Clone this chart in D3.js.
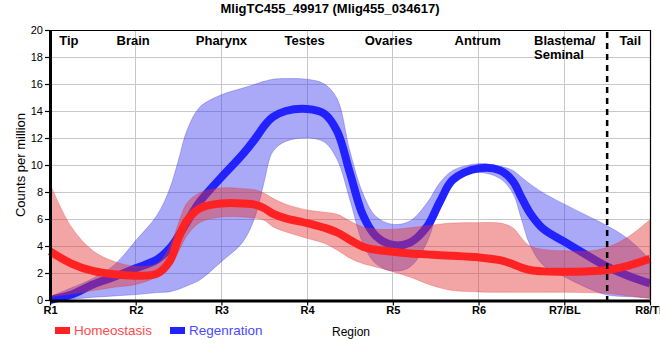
<!DOCTYPE html>
<html>
<head>
<meta charset="utf-8">
<script src="https://cdn.jsdelivr.net/npm/d3@7"></script>
<style>
  html, body { margin: 0; padding: 0; background: #fff; }
  svg { display: block; font-family: Arial, "Liberation Sans", sans-serif; }
</style>
</head>
<body>
<svg id="chart" width="660" height="360"></svg>
<script>
// ---------- data ----------
const title = "MligTC455_49917 (Mlig455_034617)";
const xTickLabels = ["R1", "R2", "R3", "R4", "R5", "R6", "R7/BL", "R8/TL"];
const yTicks = [0, 2, 4, 6, 8, 10, 12, 14, 16, 18, 20];
const regionNames = ["Tip", "Brain", "Pharynx", "Testes", "Ovaries", "Antrum", "Blastema/", "Seminal", "Tail"];
const regionPos = [0.22, 0.97, 2.0, 2.97, 3.95, 4.99, 5.8, 5.8, 6.77];
const tailBoundary = 6.5;

// positions along the body (0 = R1 ... 7 = R8/TL)
const pos = [0, 0.25, 0.5, 0.75, 1, 1.25, 1.4, 1.5, 1.6, 1.75, 2, 2.25, 2.4, 2.5, 2.6, 2.75, 3, 3.2, 3.35, 3.5, 3.65, 3.8, 4, 4.2, 4.4, 4.55, 4.7, 5, 5.25, 5.4, 5.5, 5.6, 5.75, 6, 6.25, 6.5, 6.75, 7];

const homeoMean = [3.6, 2.7, 2.15, 1.9, 1.8, 1.95, 2.9, 4.6, 5.9, 6.8, 7.15, 7.15, 7.05, 6.8, 6.4, 6.05, 5.7, 5.35, 5.0, 4.45, 3.95, 3.72, 3.58, 3.45, 3.38, 3.32, 3.28, 3.16, 2.95, 2.65, 2.4, 2.22, 2.12, 2.1, 2.12, 2.22, 2.55, 3.05];
const homeoHigh = [8.6, 5.4, 3.65, 2.85, 2.5, 2.7, 4.0, 5.7, 7.2, 7.95, 8.3, 8.25, 8.15, 7.9, 7.53, 7.1, 6.67, 6.5, 6.35, 5.85, 5.4, 5.25, 5.23, 5.35, 5.5, 5.62, 5.7, 5.73, 5.7, 5.35, 4.6, 4.0, 3.75, 3.65, 3.6, 3.9, 4.7, 5.95];
const homeoLow  = [0.25, 0.45, 0.7, 0.95, 1.15, 1.75, 2.6, 3.6, 4.8, 5.75, 6.15, 6.15, 6.05, 5.9, 5.43, 5.05, 4.57, 4.2, 3.7, 3.1, 2.7, 2.45, 2.1, 1.7, 1.2, 0.9, 0.7, 0.6, 0.57, 0.57, 0.57, 0.57, 0.57, 0.57, 0.55, 0.5, 0.3, 0.1];

const regenMean = [0.0, 0.4, 1.15, 1.72, 2.35, 3.0, 3.85, 4.75, 5.8, 7.3, 9.1, 10.8, 12.0, 12.9, 13.55, 14.0, 14.15, 13.8, 12.5, 9.4, 6.3, 4.75, 4.07, 4.25, 5.45, 7.3, 8.9, 9.75, 9.6, 8.8, 7.6, 6.45, 5.3, 4.32, 3.37, 2.47, 1.78, 1.23];
const regenHigh = [0.25, 0.9, 1.6, 2.6, 4.4, 6.3, 8.3, 10.4, 12.6, 14.3, 15.2, 15.7, 16.0, 16.2, 16.35, 16.4, 16.35, 16.0, 14.9, 11.0, 7.9, 6.2, 5.6, 5.85, 7.2, 8.7, 9.6, 10.1, 9.9, 9.6, 9.1, 8.6, 7.95, 7.1, 6.3, 5.5, 4.5, 3.0];
const regenLow  = [-0.1, 0.05, 0.2, 0.3, 0.4, 0.55, 0.62, 0.8, 1.05, 1.5, 2.84, 4.3, 6.3, 8.8, 11.0, 11.75, 12.0, 11.7, 10.4, 7.4, 4.2, 2.7, 2.15, 2.45, 4.3, 7.2, 9.0, 9.45, 9.0, 7.9, 6.0, 4.07, 2.6, 1.73, 0.95, 0.37, 0.25, 0.17];

const legendLabels = ["Homeostasis", "Regenration"];
const xAxisTitle = "Region";
const yAxisTitle = "Counts per million";

// ---------- layout ----------
const svg = d3.select("#chart");
const pLeft = 50, pRight = 650, pTop = 30, pBottom = 300;
const x = d3.scaleLinear().domain([0, 7]).range([pLeft, pRight]);
const y = d3.scaleLinear().domain([0, 20]).range([pBottom, pTop]);

const red = "#ff2222", blue = "#2222ff";

// grid
svg.append("g").selectAll("line").data(yTicks.filter(v => v > 0 && v < 20)).join("line")
  .attr("x1", pLeft).attr("x2", pRight).attr("y1", d => y(d)).attr("y2", d => y(d))
  .attr("stroke", "#c8c8c8").attr("stroke-width", 1).attr("shape-rendering", "crispEdges");
svg.append("g").selectAll("line").data(d3.range(1, 7)).join("line")
  .attr("y1", pTop).attr("y2", pBottom).attr("x1", d => x(d)).attr("x2", d => x(d))
  .attr("stroke", "#c8c8c8").attr("stroke-width", 1).attr("shape-rendering", "crispEdges");

const curve = d3.curveCatmullRom.alpha(0.5);
const area = (lo, hi) => d3.area().curve(curve)
  .x((d, i) => x(pos[i])).y0((d, i) => y(lo[i])).y1((d, i) => y(hi[i]));
const line = (vals) => d3.line().curve(curve).x((d, i) => x(pos[i])).y((d, i) => y(vals[i]));

// regeneration band + line
svg.append("path").datum(pos).attr("d", area(regenLow, regenHigh))
  .attr("fill", "rgb(50,50,235)").attr("fill-opacity", 0.42)
  .attr("stroke", "rgb(50,50,235)").attr("stroke-opacity", 0.3).attr("stroke-width", 1);
svg.append("path").datum(pos).attr("d", line(regenMean))
  .attr("fill", "none").attr("stroke", blue).attr("stroke-width", 8).attr("stroke-linecap", "butt");

// homeostasis band + line
svg.append("path").datum(pos).attr("d", area(homeoLow, homeoHigh))
  .attr("fill", "rgb(228,50,50)").attr("fill-opacity", 0.44)
  .attr("stroke", "rgb(228,50,50)").attr("stroke-opacity", 0.3).attr("stroke-width", 1);
svg.append("path").datum(pos).attr("d", line(homeoMean))
  .attr("fill", "none").attr("stroke", red).attr("stroke-width", 8).attr("stroke-linecap", "butt");

// tail boundary
svg.append("line").attr("x1", x(tailBoundary)).attr("x2", x(tailBoundary))
  .attr("y1", pTop + 2).attr("y2", pBottom)
  .attr("stroke", "#000").attr("stroke-width", 2.5).attr("stroke-dasharray", "6,5");

// border top/right
svg.append("path").attr("d", `M${pLeft},${pTop + 0.5}H${pRight + 0.5}V${pBottom}`)
  .attr("fill", "none").attr("stroke", "#000").attr("stroke-width", 1.2);

// axes
const xAxis = svg.append("g").attr("transform", `translate(0,${pBottom + 0.5})`)
  .call(d3.axisBottom(x).tickValues(d3.range(0, 8)).tickFormat(i => xTickLabels[i]).tickSize(5).tickSizeOuter(0));
xAxis.select(".domain").attr("stroke-width", 3);
xAxis.selectAll(".tick line").attr("stroke-width", 1.2);
xAxis.selectAll(".tick text").attr("font-size", 11).attr("font-weight", "bold")
  .attr("font-family", "Arial, 'Liberation Sans', sans-serif").attr("fill", "#000").attr("dy", "0.62em").attr("y", 7);

const yAxis = svg.append("g").attr("transform", `translate(${pLeft},0)`)
  .call(d3.axisLeft(y).tickValues(yTicks).tickSize(5).tickSizeOuter(0));
yAxis.select(".domain").attr("stroke-width", 3);
yAxis.selectAll(".tick line").attr("stroke-width", 1.2);
yAxis.selectAll(".tick text").attr("font-size", 11)
  .attr("font-family", "Arial, 'Liberation Sans', sans-serif").attr("fill", "#000").attr("x", -7);

// title
svg.append("text").attr("x", 330).attr("y", 13).attr("text-anchor", "middle")
  .attr("font-size", 13).attr("font-weight", "bold").text(title);

// region names
regionNames.forEach((name, i) => {
  const isBl = name === "Blastema/" || name === "Seminal";
  svg.append("text")
    .attr("x", isBl ? 534 : x(regionPos[i]))
    .attr("y", name === "Seminal" ? 59 : 45)
    .attr("text-anchor", isBl ? "start" : "middle")
    .attr("font-size", 13).attr("font-weight", "bold").text(name);
});

// y axis title
svg.append("text").attr("transform", "translate(25,165) rotate(-90)")
  .attr("text-anchor", "middle").attr("font-size", 13).text(yAxisTitle);

// legend
const legendColors = [red, blue];
const legendText = ["#ff4a4a", "#4a4aff"];
const legendX = [55, 170];
legendLabels.forEach((lab, i) => {
  svg.append("rect").attr("x", legendX[i]).attr("y", 327).attr("width", 15).attr("height", 7).attr("fill", legendColors[i]);
  svg.append("text").attr("x", legendX[i] + 19).attr("y", 335).attr("font-size", 13.5)
    .attr("fill", legendText[i]).text(lab);
});
svg.append("text").attr("x", 332).attr("y", 336).attr("font-size", 12).text(xAxisTitle);
</script>
</body>
</html>
